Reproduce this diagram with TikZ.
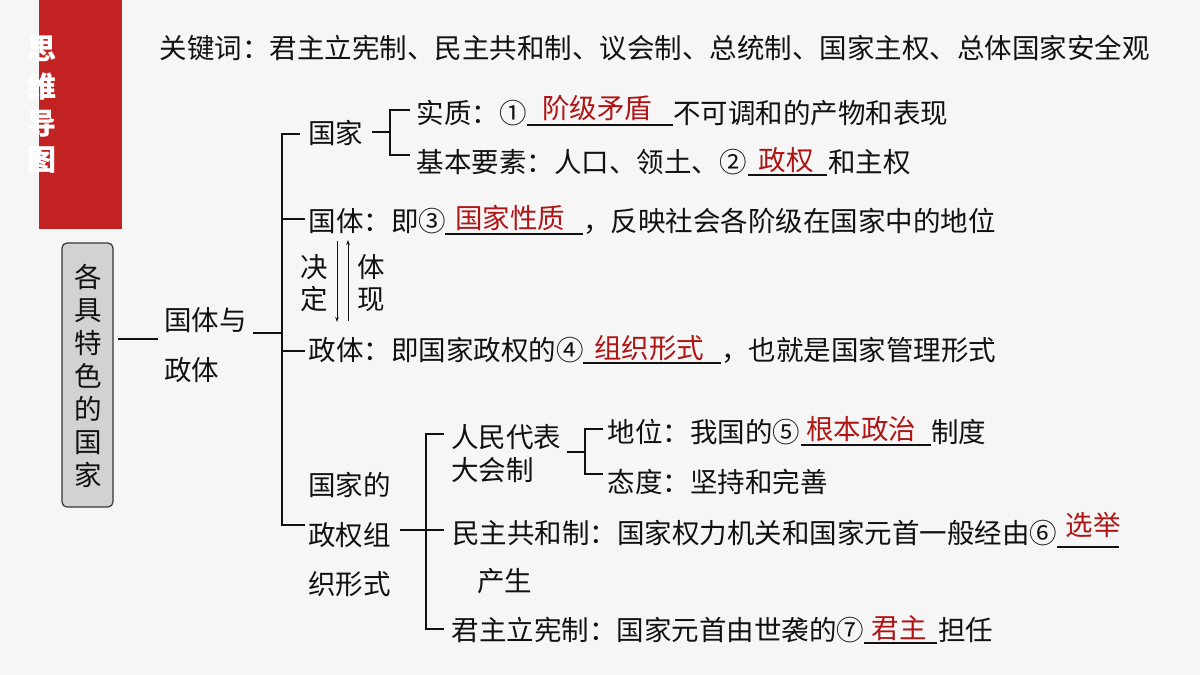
\documentclass[tikz,border=0pt]{standalone}
\usepackage{fontspec}
\setmainfont{Noto Sans CJK SC}
\usetikzlibrary{arrows.meta}
\definecolor{bgc}{HTML}{F6F6F6}
\definecolor{redbar}{HTML}{C32222}
\definecolor{ans}{HTML}{B01515}
\definecolor{boxfill}{HTML}{D2D2D2}
\definecolor{ink}{HTML}{111111}
\tikzset{
  txt/.style={inner sep=0pt,anchor=west,text=ink,font=\fontsize{27.5}{27.5}\selectfont,text height=23.5pt,text depth=3.5pt},
  answer/.style={txt,text=ans,anchor=center},
  vert/.style={txt,anchor=center},
  titlech/.style={inner sep=0pt,text=white,font=\fontsize{29}{29}\selectfont\bfseries},
  conn/.style={draw=ink,line width=1.1pt},
  uline/.style={draw=ink,line width=1.2pt},
  arr/.style={draw=ink,line width=1pt,-{Stealth[length=5pt,width=3.5pt]}}
}
\begin{document}
\begin{tikzpicture}[x=1pt,y=-1pt]
\useasboundingbox (0,0) rectangle (1200,675);
\fill[bgc] (0,0) rectangle (1200,675);
\fill[redbar] (39,0) rectangle (122,229);
\node[titlech] (t1) at (42,49) {思};
\node[titlech] (t2) at (42,86) {维};
\node[titlech] (t3) at (42,124) {导};
\node[titlech] (t4) at (42,160) {图};
\node[txt] (kw) at (159.5,48) {关键词：君主立宪制、民主共和制、议会制、总统制、国家主权、总体国家安全观};
% left box
\node[draw=ink!85,line width=1.2pt,fill=boxfill,rounded corners=5pt,minimum width=51pt,minimum height=264pt,inner sep=0pt] (box) at (87.5,375) {};
\foreach \c/\y [count=\i] in {各/277,具/310,特/343,色/376,的/409,国/442,家/475}{
  \node[vert] (b\i) at (88,\y) {\c};
}
\node[txt] (gt1) at (164,320) {国体与};
\node[txt] (gt2) at (164,370) {政体};
% first level
\node[txt] (gj) at (308,133) {国家};
\node[txt] (sz) at (416.5,113) {实质：①};
\node[txt] (sz2) at (673,113) {不可调和的产物和表现};
\node[answer] (a1) at (597,108) {阶级矛盾};
\node[txt] (yb) at (416.5,162) {基本要素：人口、领土、②};
\node[txt] (yb2) at (828,162) {和主权};
\node[answer] (a2) at (786,160) {政权};
\node[txt] (gti) at (308.5,221) {国体：即③};
\node[txt] (gti2) at (583,221) {，反映社会各阶级在国家中的地位};
\node[answer] (a3) at (510,218) {国家性质};
\node[vert] (j1) at (314,267) {决};
\node[vert] (j2) at (314,299) {定};
\node[vert] (h1) at (371,267) {体};
\node[vert] (h2) at (371,299) {现};
\node[txt] (zt) at (308.5,350) {政体：即国家政权的④};
\node[txt] (zt2) at (721,350) {，也就是国家管理形式};
\node[answer] (a4) at (649,348) {组织形式};
\node[txt] (zq1) at (308,485) {国家的};
\node[txt] (zq2) at (308,535) {政权组};
\node[txt] (zq3) at (308,584) {织形式};
\node[txt] (rd1) at (451,437) {人民代表};
\node[txt] (rd2) at (451,470) {大会制};
\node[txt] (dw) at (607.5,432) {地位：我国的⑤};
\node[txt] (dw2) at (931,432) {制度};
\node[answer] (a5) at (861,429) {根本政治};
\node[txt] (td) at (607.5,482) {态度：坚持和完善};
\node[txt] (mz) at (452,533) {民主共和制：国家权力机关和国家元首一般经由⑥};
\node[answer] (a6) at (1093,525) {选举};
\node[txt] (cs) at (477,581) {产生};
\node[txt] (jz) at (451.5,630) {君主立宪制：国家元首由世袭的⑦};
\node[txt] (jz2) at (938,630) {担任};
\node[answer] (a7) at (899,628) {君主};
% junction coordinates
\coordinate (tr1) at (282,134);
\coordinate (tr2) at (282,219);
\coordinate (tr3) at (282,351);
\coordinate (tr4) at (282,525);
\coordinate (trm) at (282,333);
\coordinate (brA) at (390,110);
\coordinate (brB) at (390,155);
\coordinate (brM) at (390,132);
\coordinate (s1) at (426,434);
\coordinate (s2) at (426,530);
\coordinate (s3) at (426,629);
\coordinate (brC) at (585,429);
\coordinate (brD) at (585,474);
\coordinate (brE) at (585,452);
% connectors
\draw[conn] (118,339) -- (158,339);
\draw[conn] (253,333) -- (trm);
\draw[conn] (300,134) -- (tr1) -- (tr4) -- (305,525);
\draw[conn] (tr2) -- (305,219);
\draw[conn] (tr3) -- (305,351);
\draw[conn] (372,132) -- (brM);
\draw[conn] (410,110) -- (brA) -- (brB) -- (410,155);
\draw[conn] (400,530) -- (s2) -- (444,530);
\draw[conn] (444,434) -- (s1) -- (s3) -- (444,629);
\draw[conn] (567,452) -- (brE);
\draw[conn] (603,429) -- (brC) -- (brD) -- (603,474);
% arrows
\draw[arr] (337,241) -- (337,322);
\draw[arr] (348,321) -- (348,240);
% blanks
\draw[uline] (527,125) -- (673,125);
\draw[uline] (748,175) -- (827,175);
\draw[uline] (445,234) -- (583,234);
\draw[uline] (583,363) -- (721,363);
\draw[uline] (801,445) -- (931,445);
\draw[uline] (1057,547) -- (1119,547);
\draw[uline] (864,643) -- (937,643);
\end{tikzpicture}
\end{document}
